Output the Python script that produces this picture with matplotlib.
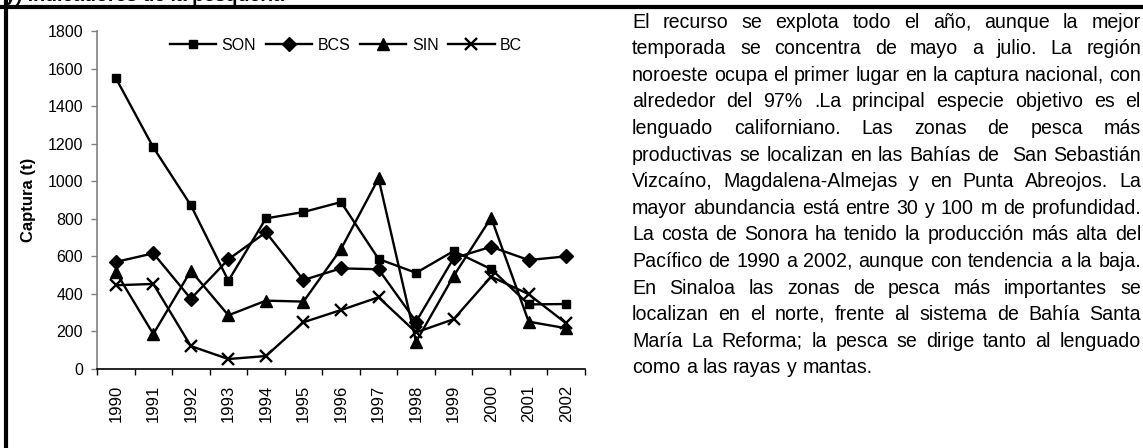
"""Captura por estado 1990-2002 con texto justificado a la derecha."""

import math

import matplotlib
matplotlib.use("Agg")
import matplotlib.pyplot as plt
from matplotlib.backends.backend_agg import get_hinting_flag
from matplotlib.font_manager import FontProperties
from matplotlib.lines import Line2D
from matplotlib.ticker import FixedLocator, NullFormatter

# ---------------------------------------------------------------------------
# Data
# ---------------------------------------------------------------------------

YEARS = ["1990", "1991", "1992", "1993", "1994", "1995", "1996",
         "1997", "1998", "1999", "2000", "2001", "2002"]

SON = [1550, 1180, 872, 470, 802, 836, 889, 586, 512, 628, 532, 344, 346]
BCS = [570, 616, 374, 584, 728, 474, 536, 531, 252, 590, 651, 580, 600]
SIN = [518, 186, 523, 286, 364, 359, 639, 1015, 145, 495, 806, 252, 217]
BC = [446, 453, 122, 53, 69, 249, 314, 382, 195, 265, 492, 398, 243]

Y_TICKS = [0, 200, 400, 600, 800, 1000, 1200, 1400, 1600, 1800]

BODY_LINES = [
    "El recurso se explota todo el año, aunque la mejor",
    "temporada se concentra de mayo a julio. La región",
    "noroeste ocupa el primer lugar en la captura nacional, con",
    "alrededor del 97% .La principal especie objetivo es el",
    "lenguado californiano. Las zonas de pesca más",
    "productivas se localizan en las Bahías de  San Sebastián",
    "Vizcaíno, Magdalena-Almejas y en Punta Abreojos. La",
    "mayor abundancia está entre 30 y 100 m de profundidad.",
    "La costa de Sonora ha tenido la producción más alta del",
    "Pacífico de 1990 a 2002, aunque con tendencia a la baja.",
    "En Sinaloa las zonas de pesca más importantes se",
    "localizan en el norte, frente al sistema de Bahía Santa",
    "María La Reforma; la pesca se dirige tanto al lenguado",
    "como a las rayas y mantas.",
]

# ---------------------------------------------------------------------------
# Layout (pixels)
# ---------------------------------------------------------------------------

W, H = 1143, 448
AX_L, AX_R, AX_T, AX_B = 97, 585, 31, 369
TXT_L, TXT_R = 632, 1141
TXT_BASE0, TXT_STEP = 27.6, 26.6


def fx(px):
    return px / W


def fy(py):
    return 1 - py / H


plt.rcParams["font.family"] = ["Liberation Sans", "DejaVu Sans"]

fig = plt.figure(figsize=(W / 100, H / 100), dpi=100)
ax = fig.add_axes([fx(AX_L), fy(AX_B), fx(AX_R - AX_L), (AX_B - AX_T) / H])

x = list(range(len(YEARS)))
ax.plot(x, SON, color="black", lw=1.7, marker="s", ms=6, label="SON")
ax.plot(x, BCS, color="black", lw=1.7, marker="D", ms=7, label="BCS")
ax.plot(x, SIN, color="black", lw=1.7, marker="^", ms=8.5, label="SIN")
ax.plot(x, BC, color="black", lw=1.7, marker="x", ms=9, mew=1.7, label="BC")

ax.set_xlim(-0.5, len(YEARS) - 0.5)
ax.set_ylim(0, 1800)
ax.set_yticks(Y_TICKS)
ax.tick_params(axis="y", labelsize=11.5, length=4.5, width=1, color="#808080", pad=5.5)

# Excel style: ticks between categories, labels at the centres
ax.xaxis.set_major_locator(FixedLocator([i - 0.5 for i in range(len(YEARS) + 1)]))
ax.xaxis.set_major_formatter(NullFormatter())
ax.xaxis.set_minor_locator(FixedLocator(x))
ax.set_xticklabels(YEARS, minor=True, rotation=90, fontsize=12)
ax.tick_params(axis="x", which="major", length=4.5, width=1, color="black")
ax.tick_params(axis="x", which="minor", length=0, pad=11.5)

for side in ("top", "right"):
    ax.spines[side].set_visible(False)
ax.spines["left"].set_color("#808080")
ax.spines["left"].set_linewidth(1.2)
ax.spines["bottom"].set_linewidth(1.2)

ax.set_ylabel("Captura (t)", fontsize=12, fontweight="bold", labelpad=0)
ax.yaxis.set_label_coords((36 - AX_L) / (AX_R - AX_L), 0.5)

ax.legend(
    loc="center", bbox_to_anchor=(fx(346), fy(45)), bbox_transform=fig.transFigure,
    ncol=4, frameon=False, fontsize=11.5, handlelength=2.9, handletextpad=0.35,
    columnspacing=0.6, borderpad=0, borderaxespad=0,
)

# ---------------------------------------------------------------------------
# Page frame and clipped heading
# ---------------------------------------------------------------------------

fig.add_artist(Line2D([fx(6), fx(6)], [0, 1], transform=fig.transFigure,
                      color="black", lw=3))
fig.add_artist(Line2D([0, 1], [fy(7), fy(7)], transform=fig.transFigure,
                      color="black", lw=3))
fig.text(fx(5), fy(1.0), "y) Indicadores de la pesquería", fontsize=14,
         fontweight="bold", va="baseline", ha="left")

# ---------------------------------------------------------------------------
# Justified body text, one Text per word
# ---------------------------------------------------------------------------

renderer = fig.canvas.get_renderer()
families = ["Liberation Sans", "DejaVu Sans"]
probe = FontProperties(family=families, size=10)
w10 = renderer.get_text_width_height_descent(BODY_LINES[2], probe, ismath=False)[0]
font = FontProperties(family=families, size=10 * (TXT_R - TXT_L) / w10)


def text_w(s):
    return renderer.get_text_width_height_descent(s, font, ismath=False)[0]


def baseline_for(word, row):
    # Agg rounds each word's bitmap by its own descent; shift so that every
    # word lands on the same pixel baseline.
    try:
        ft = renderer._prepare_font(font)
        ft.set_text(word, 0, flags=get_hinting_flag())
        d = ft.get_descent()
        h = ft.get_width_height()[1]
        ymax = (h - d) / 64.0
        return row + h // 64 - math.floor(ymax) - d / 64.0
    except Exception:
        return row


for i, line in enumerate(BODY_LINES):
    row = round(TXT_BASE0 + i * TXT_STEP)
    words = line.split(" ")
    widths = [text_w(w) if w else 0 for w in words]
    if i == len(BODY_LINES) - 1:
        space = text_w("a a") - 2 * text_w("a")
    else:
        space = (TXT_R - TXT_L - sum(widths)) / (len(words) - 1)
    cur = TXT_L
    for word, wd in zip(words, widths):
        if word:
            fig.text(fx(cur), fy(baseline_for(word, row)), word, fontproperties=font,
                     ha="left", va="baseline")
        cur += wd + space

fig.savefig("out.png", dpi=100)
